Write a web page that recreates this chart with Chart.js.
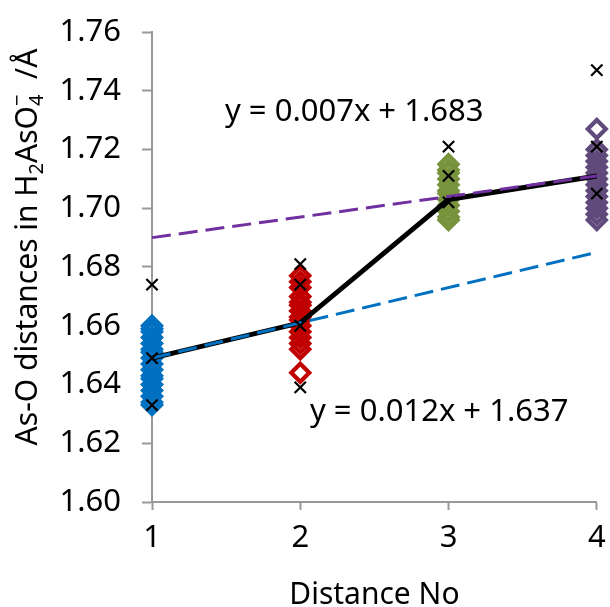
<!DOCTYPE html>
<html><head><meta charset="utf-8">
<script src="https://cdn.jsdelivr.net/npm/chart.js@4"></script>
<style>html,body{margin:0;padding:0;background:#fff}#wrap{width:610px;height:607px}</style>
</head><body><div id="wrap"><canvas id="c" width="610" height="607"></canvas></div>
<script>
// ---- data ----
const distanceNo = [1, 2, 3, 4];
const cluster1 = [1.660, 1.659, 1.658, 1.656, 1.654, 1.652, 1.651, 1.649, 1.647, 1.645, 1.643, 1.642, 1.640, 1.638, 1.636, 1.634, 1.633];
const cluster2 = [1.677, 1.675, 1.673, 1.670, 1.668, 1.667, 1.665, 1.663, 1.662, 1.660, 1.658, 1.656, 1.654, 1.652, 1.644];
const cluster3 = [1.715, 1.713, 1.712, 1.710, 1.708, 1.706, 1.705, 1.703, 1.701, 1.699, 1.697, 1.696];
const cluster4 = [1.727, 1.720, 1.718, 1.716, 1.714, 1.712, 1.710, 1.708, 1.706, 1.704, 1.702, 1.700, 1.698, 1.696];
const crossValues1 = [1.674, 1.649, 1.633];
const crossValues2 = [1.681, 1.674, 1.660, 1.639];
const crossValues3 = [1.721, 1.711, 1.702];
const crossValues4 = [1.747, 1.721, 1.705];
const meanValues = [1.649, 1.661, 1.703, 1.711];
const trendBlue = {slope: 0.012, intercept: 1.637};
const trendPurple = {slope: 0.007, intercept: 1.683};
const equationLabels = ['y = 0.007x + 1.683', 'y = 0.012x + 1.637'];
const xTitle = 'Distance No';
const yMin = 1.60, yMax = 1.76, yStep = 0.01;

const FONT = "'Noto Sans', 'Open Sans', sans-serif";
const pts = (x, arr) => arr.map(v => ({x: x, y: v}));
const trendPts = t => [distanceNo[0], distanceNo[distanceNo.length - 1]].map(x => ({x: x, y: t.slope * x + t.intercept}));

function diamonds(x, arr, color, order) {
  return {data: pts(x, arr), pointStyle: 'rectRot', pointRadius: 9, pointHoverRadius: 9,
    pointBorderWidth: 4.2, pointBorderColor: color, pointBackgroundColor: 'rgba(0,0,0,0)',
    showLine: false, clip: false, order: order};
}
const crossAll = [].concat(pts(1, crossValues1), pts(2, crossValues2), pts(3, crossValues3), pts(4, crossValues4));

const yTitlePlugin = {
  id: 'yTitle',
  afterDraw(chart) {
    const ctx = chart.ctx;
    ctx.save();
    ctx.fillStyle = '#000';
    ctx.textBaseline = 'alphabetic';
    const big = '30px ' + FONT, small = '20px ' + FONT;
    const segs = [
      {t: 'As-O distances in H', f: big, dy: 0},
      {t: '2', f: small, dy: 6},
      {t: 'AsO', f: big, dy: 0},
      {t: '4', f: small, dy: 6, stackWith: '\u2212'},
      {t: '  /Å', f: big, dy: 0}
    ];
    let total = 0;
    segs.forEach(s => { ctx.font = s.f; s.w = ctx.measureText(s.t).width; if (s.stackWith) s.w = Math.max(s.w, ctx.measureText(s.stackWith).width); total += s.w; });
    ctx.translate(37, 247);
    ctx.rotate(-Math.PI / 2);
    let x = -total / 2;
    segs.forEach(s => {
      ctx.font = s.f;
      ctx.fillText(s.t, x, s.dy);
      if (s.stackWith) ctx.fillText(s.stackWith, x, -13);
      x += s.w;
    });
    ctx.restore();
    // equations
    ctx.save();
    ctx.font = '31px ' + FONT;
    ctx.fillStyle = '#000';
    ctx.textBaseline = 'middle';
    ctx.textAlign = 'left';
    const area = chart.chartArea;
    ctx.fillText(equationLabels[0], area.left + 73, 112);
    ctx.fillText(equationLabels[1], area.left + 158, 412);
    ctx.restore();
  }
};

new Chart(document.getElementById('c'), {
  type: 'scatter',
  data: {
    datasets: [
      {data: crossAll, pointStyle: 'crossRot', pointRadius: 8, pointBorderWidth: 2.2, pointBorderColor: '#000', showLine: false, clip: false, order: 0},
      {data: trendPts(trendBlue), showLine: true, borderColor: '#0070C0', borderWidth: 3, borderDash: [19, 8], pointRadius: 0, clip: false, order: 1},
      {data: trendPts(trendPurple), showLine: true, borderColor: '#7030A0', borderWidth: 3, borderDash: [19, 8], pointRadius: 0, clip: false, order: 1},
      {data: distanceNo.map((x, i) => ({x: x, y: meanValues[i]})), showLine: true, borderColor: '#000', borderWidth: 5, pointRadius: 0, clip: false, order: 2},
      diamonds(1, cluster1, '#0070C0', 3),
      diamonds(2, cluster2, '#C00000', 4),
      diamonds(3, cluster3, '#77933C', 5),
      diamonds(4, cluster4, '#604A7B', 6)
    ]
  },
  options: {
    responsive: false,
    animation: false,
    devicePixelRatio: 1,
    layout: {padding: {top: 32, right: 11, left: 0, bottom: 0}},
    plugins: {legend: {display: false}, tooltip: {enabled: false}},
    events: [],
    scales: {
      x: {
        type: 'linear', min: 1, max: 4,
        afterFit(s) { s.height = 105; s.paddingLeft = 0; s.paddingRight = 0; },
        ticks: {stepSize: 1, color: '#000', font: {family: FONT, size: 31}, padding: 10},
        grid: {drawOnChartArea: false, drawTicks: true, tickLength: 8, tickColor: '#999', tickWidth: 2},
        border: {color: '#999', width: 2},
        title: {display: true, text: xTitle, color: '#000', font: {family: FONT, size: 30, lineHeight: 0.75}, padding: 0}
      },
      y: {
        type: 'linear', min: yMin, max: yMax,
        afterFit(s) { s.width = 152; s.paddingTop = 0; s.paddingBottom = 0; },
        ticks: {stepSize: yStep, color: '#000', font: {family: FONT, size: 31}, padding: 21,
          callback: v => (Math.round(v * 100) % 2 === 0 ? v.toFixed(2) : '')},
        grid: {drawOnChartArea: false, drawTicks: true, tickLength: 10, tickColor: '#999', tickWidth: 2},
        border: {color: '#999', width: 2}
      }
    }
  },
  plugins: [yTitlePlugin]
});
</script>
</body></html>
